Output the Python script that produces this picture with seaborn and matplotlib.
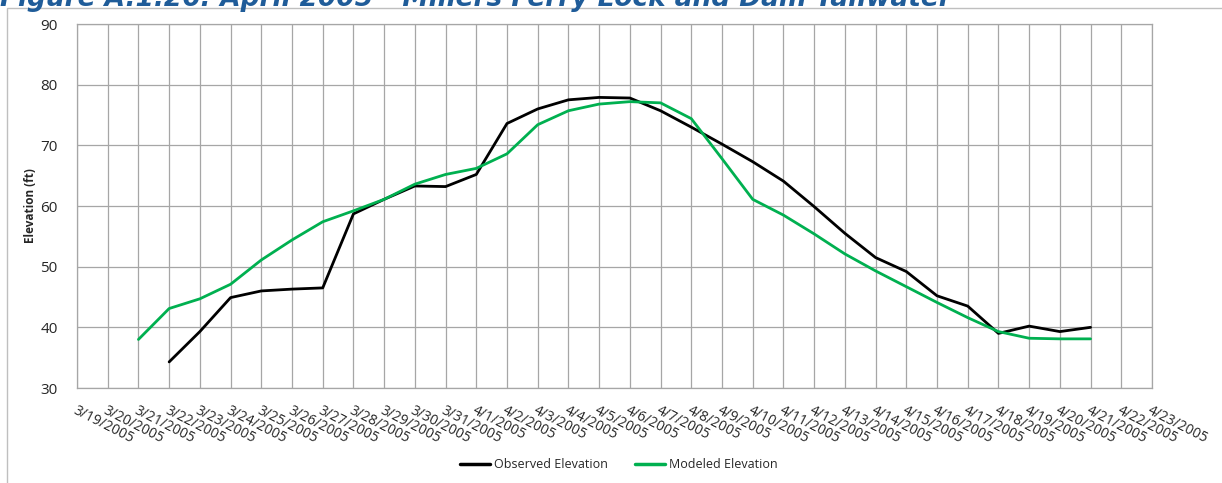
import pandas as pd
import matplotlib.pyplot as plt
import matplotlib.dates as mdates
from matplotlib.patches import Rectangle
import seaborn as sns

# daily values
obs_dates = pd.date_range("2005-03-22", "2005-04-21", freq="D")
observed = [34.3, 39.3, 44.9, 46.0, 46.3, 46.5, 58.7, 61.1, 63.3, 63.2,
            65.2, 73.6, 76.0, 77.5, 77.9, 77.8, 75.7, 73.0, 70.2, 67.3,
            64.1, 59.9, 55.5, 51.5, 49.2, 45.2, 43.5, 39.0, 40.2, 39.3, 40.0]

mod_dates = pd.date_range("2005-03-21", "2005-04-21", freq="D")
modeled = [38.0, 43.1, 44.7, 47.1, 51.1, 54.4, 57.4, 59.2, 61.1, 63.6, 65.2,
           66.2, 68.6, 73.4, 75.7, 76.8, 77.2, 77.0, 74.4, 67.8, 61.1,
           58.5, 55.4, 52.1, 49.3, 46.7, 44.1, 41.6, 39.3, 38.2, 38.1, 38.1]

tick_dates = pd.date_range("2005-03-19", "2005-04-23", freq="D")

df = pd.concat([
    pd.DataFrame({"Date": obs_dates, "Elevation": observed, "Series": "Observed Elevation"}),
    pd.DataFrame({"Date": mod_dates, "Elevation": modeled, "Series": "Modeled Elevation"}),
])

sns.set_style("white")
plt.rcParams['font.family'] = ['Open Sans', 'DejaVu Sans']

fig = plt.figure(figsize=(12.22, 4.83), dpi=100)
ax = fig.add_axes([77 / 1222, 1 - 388 / 483, (1152 - 77) / 1222, (388 - 24) / 483])

sns.lineplot(data=df, x="Date", y="Elevation", hue="Series",
             palette={"Observed Elevation": "#000000", "Modeled Elevation": "#00B050"},
             linewidth=2.0, ax=ax, legend=False)

ax.set_xlim(tick_dates[0], tick_dates[-1])
ax.set_ylim(30, 90)
ax.set_yticks(range(30, 91, 10))
ax.set_xticks(tick_dates)
ax.xaxis.set_major_formatter(mdates.DateFormatter('%-m/%-d/%Y'))
ax.grid(True, color='#a6a6a6', linewidth=0.9)
ax.set_axisbelow(True)
for s in ax.spines.values():
    s.set_color('#a6a6a6')
    s.set_linewidth(0.9)
ax.tick_params(axis='both', which='major', direction='out', length=5, color='#a6a6a6',
               labelcolor='#262626')
ax.tick_params(axis='y', labelsize=11, pad=9)
ax.tick_params(axis='x', labelsize=10, pad=6)
for lab in ax.get_xticklabels():
    lab.set_rotation(-27)
    lab.set_ha('left')
    lab.set_va('top')
    lab.set_rotation_mode('anchor')

ax.set_xlabel('')
ax.set_ylabel('Elevation (ft)', fontsize=8.5, fontweight='bold', labelpad=2)

handles = [plt.Line2D([], [], color='#000000', lw=2.5),
           plt.Line2D([], [], color='#00B050', lw=2.5)]
fig.legend(handles, ['Observed Elevation', 'Modeled Elevation'], loc='center',
           bbox_to_anchor=(619 / 1222, 1 - 465 / 483), ncol=2, frameon=False,
           fontsize=9, handlelength=2.4, handletextpad=0.3, columnspacing=2.2)

# outer chart border
fig.patches.append(Rectangle((7 / 1222, -0.05), 1.1, 1 - 8 / 483 + 0.05,
                             transform=fig.transFigure, fill=False,
                             edgecolor='#bfbfbf', linewidth=1.0))

fig.text(0.0, 1 - 6 / 483, 'Figure A.1.26: April 2005 - Millers Ferry Lock and Dam Tailwater',
         fontsize=19, fontweight='bold', fontstyle='italic', color='#1F5C99',
         va='baseline', ha='left', family=['DejaVu Sans'])

fig.savefig('out.png', dpi=100)
